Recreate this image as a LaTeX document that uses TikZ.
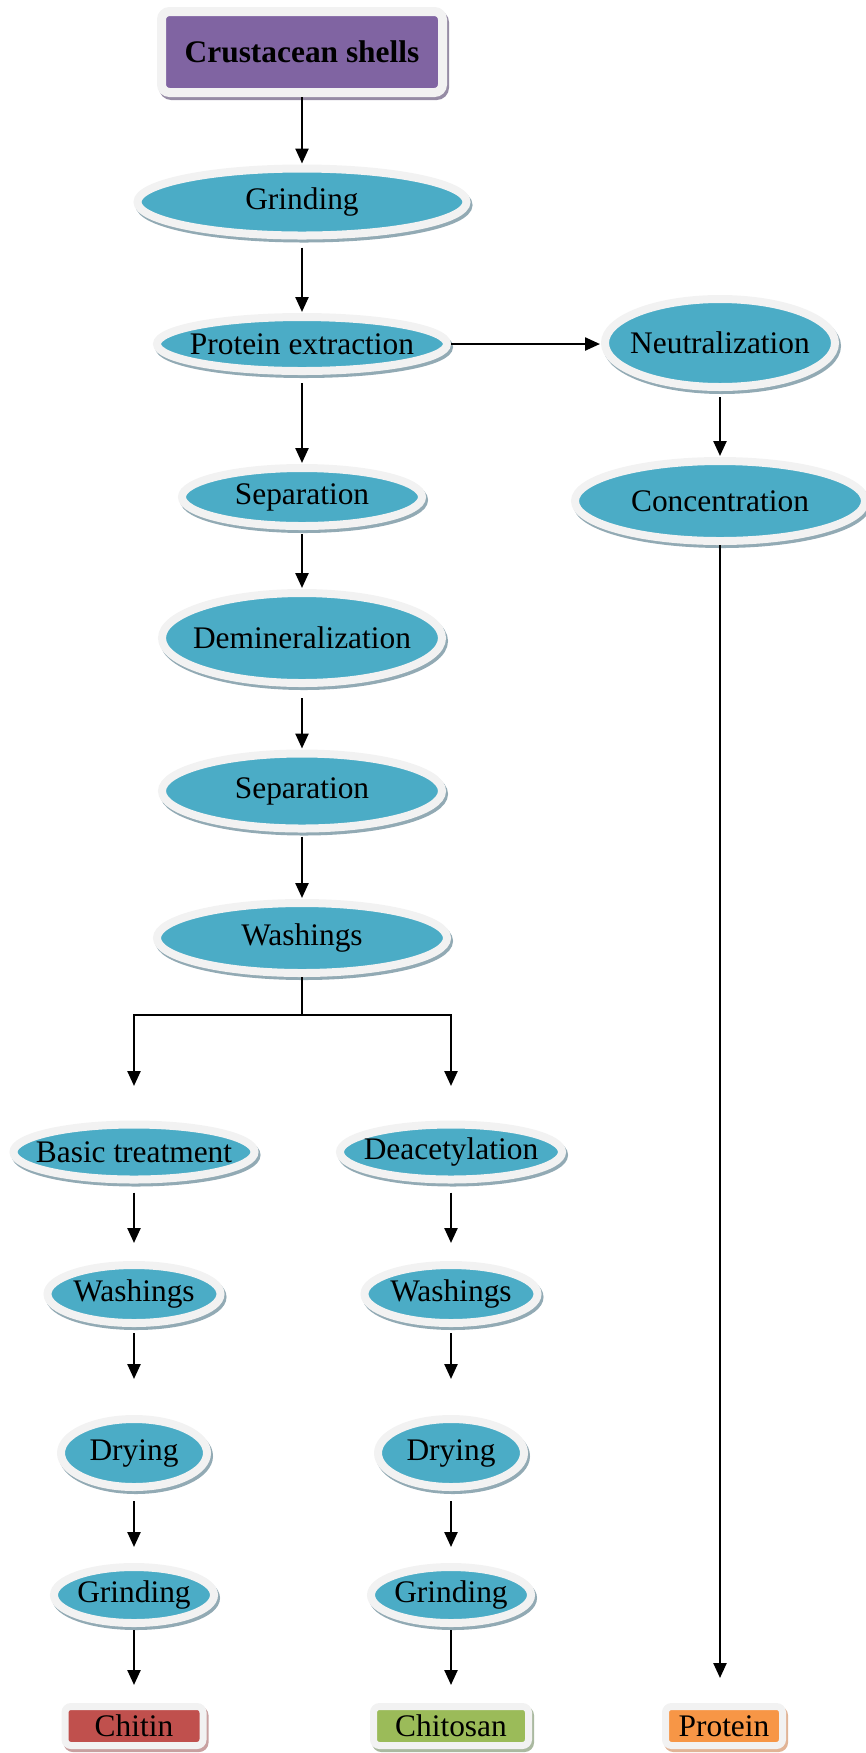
\documentclass[tikz,border=0pt]{standalone}
\usepackage{fontspec}
\setmainfont{Liberation Serif}
\usetikzlibrary{shapes.geometric,shadows,arrows.meta}

\definecolor{stageteal}{HTML}{4BACC6}
\definecolor{ringgray}{HTML}{F2F2F2}
\definecolor{tealshadow}{RGB}{146,170,180}
\definecolor{shellpurple}{HTML}{8064A2}
\definecolor{purpleshadow}{RGB}{150,140,165}
\definecolor{chitinred}{HTML}{C0504D}
\definecolor{redshadow}{RGB}{200,160,160}
\definecolor{chitosangreen}{HTML}{9BBB59}
\definecolor{greenshadow}{RGB}{170,185,160}
\definecolor{proteinorange}{HTML}{F79646}
\definecolor{orangeshadow}{RGB}{225,180,150}

\tikzset{
  stage/.style={ellipse, draw=ringgray, line width=4pt, fill=stageteal, inner sep=0pt,
    font=\fontsize{15.7}{18}\selectfont,
    execute at begin node={\hbox to 0pt\bgroup\hss},
    execute at end node={\hss\egroup},
    general shadow={shadow xshift=1pt, shadow yshift=-1.5pt, fill=tealshadow,
      draw=tealshadow, line width=4pt}},
  product/.style={rectangle, rounded corners=3pt, draw=ringgray, line width=3.5pt,
    inner sep=0pt, minimum height=19.5pt, fill=#1,
    font=\fontsize{15.7}{18}\selectfont},
  shellbox/.style={rectangle, rounded corners=4pt, draw=ringgray, line width=4.5pt,
    fill=shellpurple, inner sep=0pt, minimum width=140.5pt, minimum height=40.5pt,
    font=\fontsize{15.7}{18}\selectfont\bfseries,
    general shadow={shadow xshift=1pt, shadow yshift=-1.5pt, fill=purpleshadow,
      draw=purpleshadow, line width=4.5pt}},
  flow/.style={-{Triangle[length=7.5pt,width=6.5pt]}, line width=1.2pt,
    shorten <=3pt, shorten >=0.5pt},
}

\begin{document}
\begin{tikzpicture}[x=0.5pt, y=-0.5pt]
   \def\Xm{302}
   \def\Xl{134}
   \def\Xr{451}
   \def\Xp{720}
   \useasboundingbox (0,0) rectangle (866,1753);

   % main line
   \node (shells) at (\Xm, 52) [shellbox] {Crustacean shells};
   \node (grind) at (\Xm, 202) [stage, minimum width=164.5pt, minimum height=33.5pt] {Grinding};
   \node (protex) at (\Xm, 344) [stage, minimum width=145pt, minimum height=27pt] {Protein extraction};
   \node (sepa) at (\Xm, 497) [stage, minimum width=120pt, minimum height=29pt] {Separation};
   \node (demin) at (\Xm, 638) [stage, minimum width=140pt, minimum height=45pt] {Demineralization};
   \node (sepb) at (\Xm, 791) [stage, minimum width=140pt, minimum height=37.5pt] {Separation};
   \node (wash) at (\Xm, 938) [stage, minimum width=145pt, minimum height=35pt] {Washings};

   % protein branch
   \node (neutral) at (\Xp, 343) [stage, minimum width=115pt, minimum height=44pt] {Neutralization};
   \node (concen) at (\Xp, 501) [stage, minimum width=145pt, minimum height=40pt] {Concentration};

   % chitin branch
   \node (basic) at (\Xl, 1152) [stage, minimum width=120.5pt, minimum height=27.5pt] {Basic treatment};
   \node (washl) at (\Xl, 1294) [stage, minimum width=86.5pt, minimum height=29pt] {Washings};
   \node (dryl) at (\Xl, 1453) [stage, minimum width=73pt, minimum height=34pt] {Drying};
   \node (grindl) at (\Xl, 1595) [stage, minimum width=80pt, minimum height=28pt] {Grinding};

   % chitosan branch
   \node (deacet) at (\Xr, 1152) [stage, minimum width=111pt, minimum height=27.5pt] {Deacetylation};
   \node (washr) at (\Xr, 1294) [stage, minimum width=86.5pt, minimum height=29pt] {Washings};
   \node (dryr) at (\Xr, 1453) [stage, minimum width=73pt, minimum height=34pt] {Drying};
   \node (grindr) at (\Xr, 1595) [stage, minimum width=80pt, minimum height=28pt] {Grinding};

   % products
   \node (chitin) at (\Xl, 1726) [product=chitinred, minimum width=69pt,
      general shadow={shadow xshift=1pt, shadow yshift=-1.5pt, fill=redshadow, draw=redshadow, line width=3.5pt}] {Chitin};
   \node (chitosan) at (\Xr, 1726) [product=chitosangreen, minimum width=77.5pt,
      general shadow={shadow xshift=1pt, shadow yshift=-1.5pt, fill=greenshadow, draw=greenshadow, line width=3.5pt}] {Chitosan};
   \node (protein) at (724, 1726) [product=proteinorange, minimum width=58.5pt,
      general shadow={shadow xshift=1pt, shadow yshift=-1.5pt, fill=orangeshadow, draw=orangeshadow, line width=3.5pt}] {Protein};

   % split points
   \coordinate (fork) at (\Xm, 1015);
   \coordinate (forkl) at (\Xl, 1087);
   \coordinate (forkr) at (\Xr, 1087);

   % arrows
   \draw [flow, shorten <=0pt] (shells) -- (grind);
   \draw [flow, shorten <=4pt] (grind) -- (protex);
   \draw [flow, shorten <=4pt] (protex) -- (sepa);
   \draw [flow, shorten <=2pt] (sepa) -- (demin);
   \draw [flow, shorten <=5.5pt] (demin) -- (sepb);
   \draw [flow, shorten <=2pt] (sepb) -- (wash);
   \draw [flow, shorten <=0pt] (protex.east) -- (protex.east -| neutral.west);
   \draw [flow] (neutral) -- (concen);
   \draw [flow, shorten <=0pt, shorten >=12.5pt] (concen.south) -- (concen.south |- protein.north);
   \draw [line width=1.2pt] (wash.south) -- (fork);
   \draw [flow, shorten <=0pt] (fork) -| (forkl);
   \draw [flow, shorten <=0pt] (fork) -| (forkr);
   \draw [flow, shorten <=4.5pt, shorten >=9pt] (basic) -- (washl);
   \draw [flow, shorten <=3pt, shorten >=18pt] (washl) -- (dryl);
   \draw [flow, shorten <=5pt, shorten >=8pt] (dryl) -- (grindl);
   \draw [flow, shorten <=1.5pt, shorten >=9pt] (grindl) -- (chitin);
   \draw [flow, shorten <=4.5pt, shorten >=9pt] (deacet) -- (washr);
   \draw [flow, shorten <=3pt, shorten >=18pt] (washr) -- (dryr);
   \draw [flow, shorten <=5pt, shorten >=8pt] (dryr) -- (grindr);
   \draw [flow, shorten <=1.5pt, shorten >=9pt] (grindr) -- (chitosan);
\end{tikzpicture}
\end{document}
